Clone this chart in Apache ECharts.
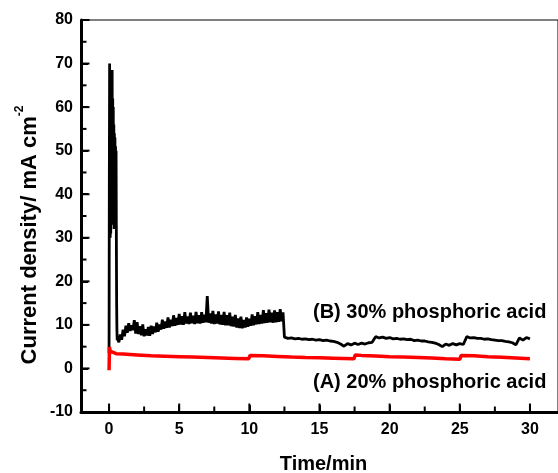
<!DOCTYPE html>
<html>
<head>
<meta charset="utf-8">
<script src="https://cdn.jsdelivr.net/npm/echarts@6/dist/echarts.min.js"></script>
<style>
  html, body { margin: 0; padding: 0; background: #fff; }
  #chart { width: 558px; height: 473px; }
</style>
</head>
<body>
<div id="chart"></div>
<script>
// Chronoamperometry: current density (mA cm^-2) vs time (min)

// Tick values
const xTicks = [0, 5, 10, 15, 20, 25, 30];
const xMinorTicks = [2.5, 7.5, 12.5, 17.5, 22.5, 27.5];
const yTicks = [-10, 0, 10, 20, 30, 40, 50, 60, 70, 80];
const yMinorTicks = [-5, 5, 15, 25, 35, 45, 55, 65, 75];

// (B) 30% phosphoric acid — initial spike, sampled every 0.02 min from t = 0
const spikeStartB = 0, spikeStepB = 0.02;
const spikeB = [3.5, 45, 70, 50, 30, 34, 31, 58, 36, 66, 38, 68.5, 35, 62, 33, 60, 34, 56, 32, 54,
                36, 53, 40, 51, 45, 50, 30, 15, 9, 6.5, 7.0];

// (B) noisy plateau, sampled every 0.1 min from t = 0.7
const noiseStartB = 0.7, noiseStepB = 0.1;
const noiseB = [
  6.0, 7.8, 6.6, 8.9,
  7.4, 9.8, 8.2, 10.4, 8.6, 9.9, 8.8, 11.1, 8.0, 10.6,
  7.9, 9.7, 7.6, 10.1, 7.4, 9.0, 7.6, 9.5, 7.5, 9.8,
  7.9, 9.6, 8.3, 10.5, 8.4, 10.1, 8.9, 11.2, 9.1, 10.8,
  9.3, 11.7, 9.4, 11.2, 9.7, 12.2, 9.8, 11.6, 10.0, 12.5,
  10.1, 12.0, 10.0, 12.9, 10.3, 11.9, 10.2, 12.8, 10.4, 12.1,
  10.2, 13.0, 10.4, 12.2, 10.3, 12.9, 10.5, 12.3, 10.6, 16.6,
  10.5, 12.6, 10.3, 13.2, 10.2, 12.4, 10.3, 13.1, 10.1, 12.3,
  10.0, 13.0, 9.9, 12.2, 9.9, 12.8, 9.7, 11.9, 9.6, 12.3,
  9.4, 11.5, 9.3, 11.9, 9.2, 11.1, 9.4, 11.7, 9.6, 11.4,
  9.8, 12.4, 9.9, 12.0, 10.1, 12.9, 10.2, 12.3, 10.3, 13.4,
  10.4, 12.7, 10.5, 13.5, 10.6, 12.8, 10.5, 13.3, 10.6, 12.9,
  10.7, 13.6, 10.8, 12.9
];

// (B) steady tail, sampled every 0.25 min from t = 12.5
const tailStartB = 12.5, tailStepB = 0.25;
const tailB = [
  7.2, 6.9, 7.0, 6.8, 6.9, 6.7, 6.8, 6.6, 6.7, 6.5, 6.6, 6.4, 6.5, 6.3, 6.2, 6.0,
  5.6, 5.1, 5.7, 5.4, 5.8, 5.5, 5.8, 5.6, 5.9, 6.0,
  7.3, 7.0, 7.2, 6.9, 7.1, 6.8, 6.9, 6.7, 6.8, 6.6, 6.7, 6.4, 6.5, 6.3, 6.3, 6.1,
  6.0, 5.8, 5.5, 5.0, 5.6, 5.3, 5.7, 5.4, 5.7, 5.5,
  7.3, 7.0, 7.1, 6.9, 6.9, 6.7, 6.8, 6.6, 6.5, 6.4, 6.4, 6.2, 6.1, 5.9, 5.4,
  7.0, 6.5, 7.1, 6.8
];

// (A) 20% phosphoric acid
const timeA = [0, 0.03, 0.08, 0.2, 0.5, 1, 2, 3, 4, 5, 6, 7, 8, 9, 9.95, 10.05, 11, 12, 13, 14, 15, 16,
               17.45, 17.55, 18, 19, 20, 21, 22, 23, 24, 25.0, 25.1, 26, 27, 28, 29, 30];
const currentA = [-0.4, 4.9, 4.0, 3.6, 3.4, 3.3, 3.1, 2.9, 2.8, 2.7, 2.6, 2.5, 2.4, 2.3, 2.2, 3.0, 2.9, 2.75,
                  2.6, 2.5, 2.45, 2.35, 2.2, 3.1, 3.0, 2.85, 2.7, 2.6, 2.5, 2.4, 2.2, 2.1, 3.0, 2.9, 2.7,
                  2.55, 2.4, 2.2];

const labelB = '(B) 30% phosphoric acid';
const labelA = '(A) 20% phosphoric acid';
const xTitle = 'Time/min';

const X_MIN = -2, X_MAX = 32, Y_MIN = -10, Y_MAX = 80;

function sampled(start, step, values) {
  return values.map((v, i) => [+(start + i * step).toFixed(3), v]);
}
const seriesB = [].concat(
  sampled(spikeStartB, spikeStepB, spikeB),
  sampled(noiseStartB, noiseStepB, noiseB),
  sampled(tailStartB, tailStepB, tailB)
);
const seriesA = timeA.map((t, i) => [t, currentA[i]]);

// Tick marks drawn inward from the axis lines: [x value, y value, direction (0 = up, 1 = right), length]
const tickData = [].concat(
  xTicks.map(v => [v, Y_MIN, 0, 7]),
  xMinorTicks.map(v => [v, Y_MIN, 0, 4]),
  yTicks.map(v => [X_MIN, v, 1, 7]),
  yMinorTicks.map(v => [X_MIN, v, 1, 4])
);

const FONT = "'Liberation Sans', Arial, Helvetica, sans-serif";

const chart = echarts.init(document.getElementById('chart'), null, { renderer: 'canvas' });
chart.setOption({
  animation: false,
  backgroundColor: '#ffffff',
  grid: {
    left: 81, top: 20, width: 479.5, height: 392, containLabel: false,
    show: true, borderColor: '#000', borderWidth: 1, backgroundColor: 'transparent'
  },
  xAxis: {
    type: 'value', min: X_MIN, max: X_MAX, position: 'bottom',
    axisLine: { show: true, onZero: false, lineStyle: { color: '#000', width: 3 } },
    axisTick: { show: true, inside: true, length: 7, customValues: xTicks, lineStyle: { color: '#000', width: 2 } },
    axisLabel: { show: true, customValues: xTicks, margin: 10, color: '#000', fontSize: 16, fontWeight: 'bold', fontFamily: FONT },
    splitLine: { show: false }
  },
  yAxis: {
    type: 'value', min: Y_MIN, max: Y_MAX, interval: 10, position: 'left',
    axisLine: { show: true, onZero: false, lineStyle: { color: '#000', width: 3 } },
    axisTick: { show: true, inside: true, length: 7, lineStyle: { color: '#000', width: 2 } },
    axisLabel: { margin: 8, color: '#000', fontSize: 16, fontWeight: 'bold', fontFamily: FONT },
    splitLine: { show: false }
  },
  series: [
    {
      name: labelB, type: 'line', data: seriesB, showSymbol: false, symbol: 'none',
      lineStyle: { color: '#000000', width: 2.8 }, clip: true
    },
    {
      name: labelA, type: 'line', data: seriesA, showSymbol: false, symbol: 'none',
      lineStyle: { color: '#ff0000', width: 3.5 }, clip: true
    },
    {
      type: 'custom', data: tickData, clip: false, silent: true, z: 5,
      renderItem: function (params, api) {
        const p = api.coord([api.value(0), api.value(1)]);
        const len = api.value(3) + 1.5;
        const q = api.value(2) === 0 ? [p[0], p[1] - len] : [p[0] + len, p[1]];
        return {
          type: 'line',
          shape: { x1: p[0], y1: p[1], x2: q[0], y2: q[1] },
          style: { stroke: '#000', lineWidth: 2 }
        };
      }
    }
  ],
  graphic: [
    {
      type: 'text', x: 313, y: 312,
      style: { text: labelB, fill: '#000', font: 'bold 20px ' + FONT, textAlign: 'left', textVerticalAlign: 'middle' }
    },
    {
      type: 'text', x: 313, y: 382,
      style: { text: labelA, fill: '#000', font: 'bold 20px ' + FONT, textAlign: 'left', textVerticalAlign: 'middle' }
    },
    {
      type: 'text', x: 323.5, y: 464,
      style: { text: xTitle, fill: '#000', font: 'bold 20px ' + FONT, textAlign: 'center', textVerticalAlign: 'middle' }
    },
    {
      type: 'text', x: 27, y: 235, rotation: Math.PI / 2,
      style: {
        text: '{m|Current density/ mA cm}{s|-2}',
        textAlign: 'center', textVerticalAlign: 'middle',
        rich: {
          m: { fontSize: 22, fontWeight: 'bold', fontFamily: FONT, fill: '#000', color: '#000', lineHeight: 27, verticalAlign: 'bottom' },
          s: { fontSize: 12, fontWeight: 'bold', fontFamily: FONT, fill: '#000', color: '#000', lineHeight: 27, verticalAlign: 'top' }
        }
      }
    }
  ]
});
</script>
</body>
</html>
